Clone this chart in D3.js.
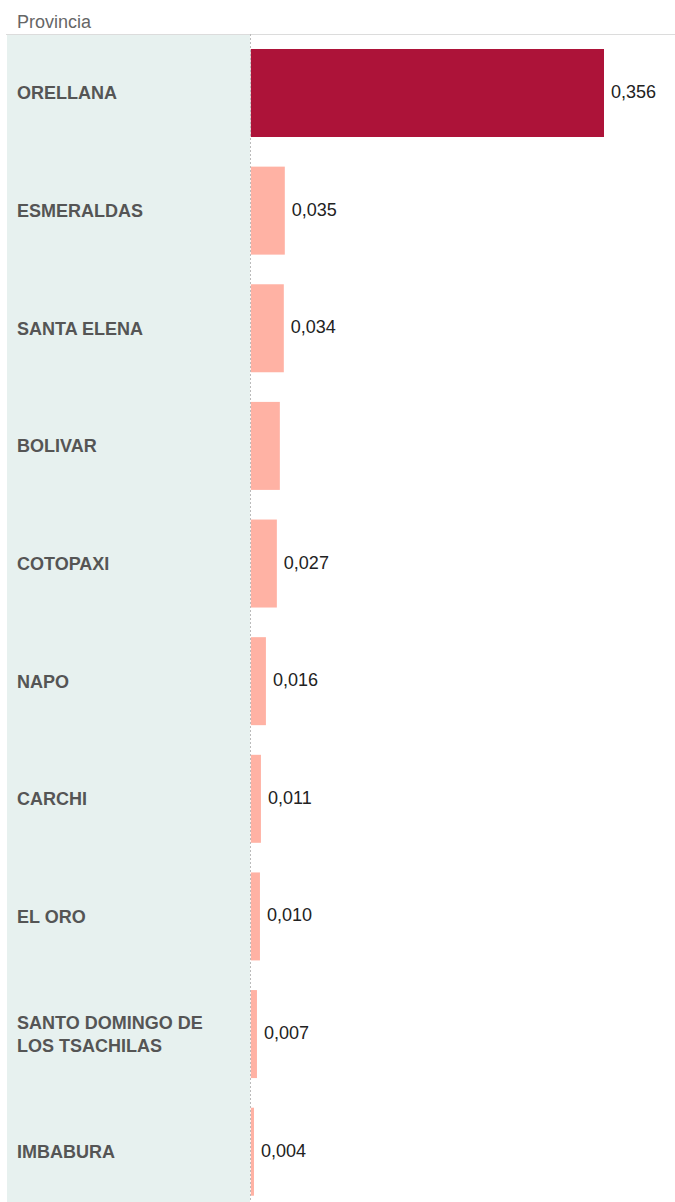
<!DOCTYPE html>
<html>
<head>
<meta charset="utf-8">
<script src="https://cdn.jsdelivr.net/npm/d3@7"></script>
<style>
  body { margin: 0; background: #fff; }
  svg { display: block; font-family: Arial, "Liberation Sans", sans-serif; }
</style>
</head>
<body>
<svg width="675" height="1202"></svg>
<script>
const provinces = ["ORELLANA", "ESMERALDAS", "SANTA ELENA", "BOLIVAR", "COTOPAXI", "NAPO",
  "CARCHI", "EL ORO", "SANTO DOMINGO DE LOS TSACHILAS", "IMBABURA"];
const values = [0.356, 0.035, 0.034, 0.030, 0.027, 0.016, 0.011, 0.010, 0.007, 0.004];
// Bolivar has no label in the source
const showLabel = [true, true, true, false, true, true, true, true, true, true];
const labelLines = {
  "SANTO DOMINGO DE LOS TSACHILAS": ["SANTO DOMINGO DE", "LOS TSACHILAS"]
};

const svg = d3.select("svg");
const plotTop = 34, plotBottom = 1202, panelLeft = 7, panelRight = 250;

const y = d3.scaleBand()
  .domain(provinces)
  .range([49, 1195.7])
  .paddingInner(0.252)
  .paddingOuter(0);

const x = d3.scaleLinear()
  .domain([0, 0.356])
  .range([panelRight, 604]);

const fmt = v => d3.format(".3f")(v).replace(".", ",");

// header
svg.append("text")
  .attr("x", 17).attr("y", 28)
  .attr("fill", "#666").attr("font-size", "18px")
  .text("Provincia");

// left label panel
svg.append("rect")
  .attr("x", panelLeft).attr("y", plotTop)
  .attr("width", panelRight - panelLeft).attr("height", plotBottom - plotTop)
  .attr("fill", "#e7f1ef");

svg.append("line")
  .attr("x1", 6).attr("x2", 675)
  .attr("y1", plotTop + 0.5).attr("y2", plotTop + 0.5)
  .attr("stroke", "#dcdcdc");

// bars
svg.append("g").selectAll("rect")
  .data(provinces)
  .join("rect")
  .attr("x", x(0) + 0.8)
  .attr("y", d => y(d))
  .attr("width", (d, i) => x(values[i]) - x(0) - 0.8)
  .attr("height", y.bandwidth())
  .attr("fill", (d, i) => i === 0 ? "#ad1339" : "#ffb2a4");

svg.append("line")
  .attr("x1", panelRight + 0.5).attr("x2", panelRight + 0.5)
  .attr("y1", plotTop).attr("y2", plotBottom)
  .attr("stroke", "#bbb")
  .attr("stroke-dasharray", "2,2");

// category labels
const cat = svg.append("g").selectAll("text")
  .data(provinces)
  .join("text")
  .attr("x", 17)
  .attr("fill", "#555")
  .attr("font-size", "18px")
  .attr("font-weight", "bold");

cat.each(function(d) {
  const lines = labelLines[d] || [d];
  const cy = y(d) + y.bandwidth() / 2;
  const lh = 23;
  const t = d3.select(this);
  lines.forEach((ln, k) => {
    t.append("tspan")
      .attr("x", 17)
      .attr("y", cy + 6.5 + (k - (lines.length - 1) / 2) * lh)
      .text(ln);
  });
});

// value labels
svg.append("g").selectAll("text")
  .data(provinces.filter((d, i) => showLabel[i]))
  .join("text")
  .attr("x", d => x(values[provinces.indexOf(d)]) + 7)
  .attr("y", d => y(d) + y.bandwidth() / 2 + 5)
  .attr("fill", "#222")
  .attr("font-size", "18px")
  .text(d => fmt(values[provinces.indexOf(d)]));
</script>
</body>
</html>
